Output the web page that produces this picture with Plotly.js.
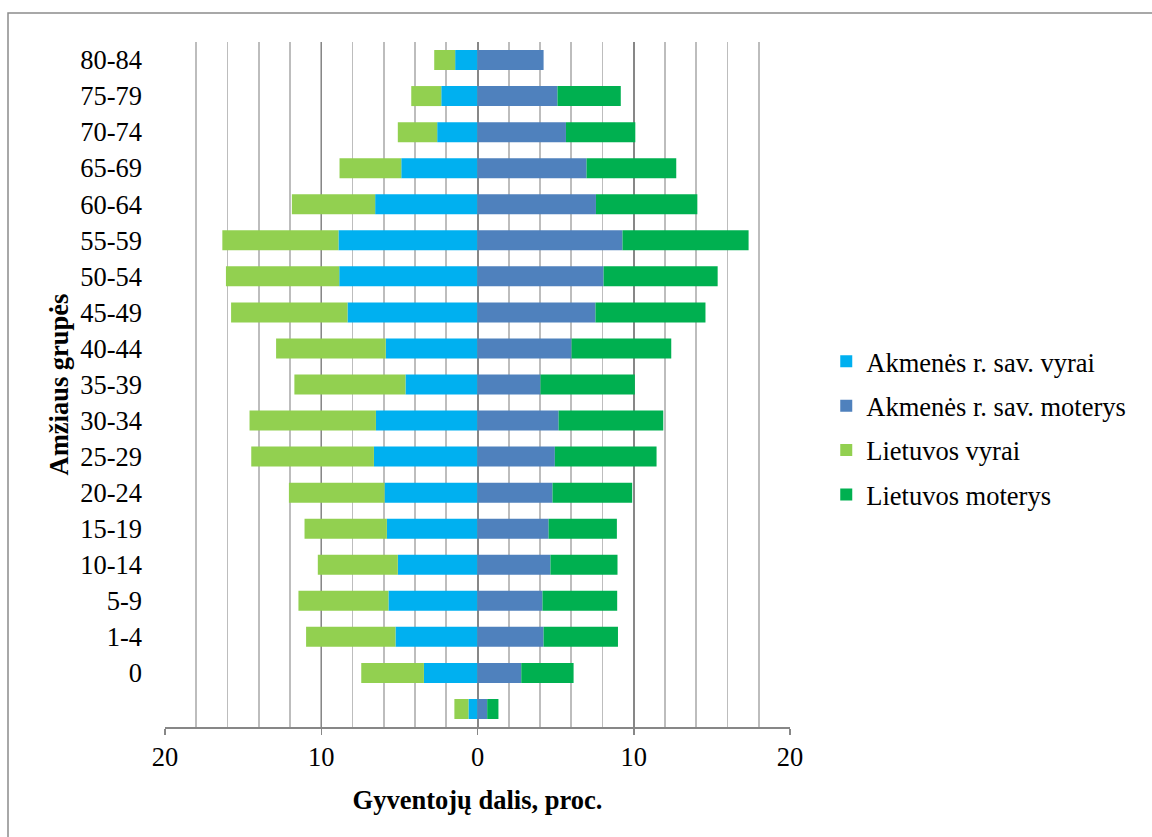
<!DOCTYPE html>
<html>
<head>
<meta charset="utf-8">
<script src="https://cdn.plot.ly/plotly-3.0.1.min.js"></script>
<style>
html,body{margin:0;padding:0;background:#fff;}
#chart{width:1152px;height:837px;}
</style>
</head>
<body>
<div id="chart"></div>
<script>
// Categories, bottom to top
const ageGroups = ['85+','0','1-4','5-9','10-14','15-19','20-24','25-29','30-34','35-39','40-44','45-49','50-54','55-59','60-64','65-69','70-74','75-79','80-84'];
const ageLabels = ['','0','1-4','5-9','10-14','15-19','20-24','25-29','30-34','35-39','40-44','45-49','50-54','55-59','60-64','65-69','70-74','75-79','80-84'];

// Shares, % (men drawn to the left)
const akmVyrai    = [0.58, 3.43, 5.25, 5.70, 5.10, 5.80, 5.95, 6.63, 6.50, 4.61, 5.87, 8.32, 8.85, 8.90, 6.55, 4.88, 2.58, 2.32, 1.43];
const akmMoterys  = [0.62, 2.80, 4.23, 4.16, 4.67, 4.55, 4.80, 4.95, 5.19, 4.03, 6.02, 7.55, 8.07, 9.28, 7.58, 6.98, 5.66, 5.12, 4.23];
const ltVyrai     = [0.90, 4.01, 5.72, 5.76, 5.12, 5.27, 6.12, 7.85, 8.09, 7.11, 7.02, 7.45, 7.25, 7.43, 5.33, 3.95, 2.52, 1.92, 1.34];
const ltMoterys   = [0.72, 3.35, 4.76, 4.78, 4.29, 4.37, 5.10, 6.51, 6.70, 6.04, 6.38, 7.04, 7.30, 8.07, 6.49, 5.74, 4.44, 4.05, 0];

const seriesNames = ['Akmenės r. sav. vyrai','Akmenės r. sav. moterys','Lietuvos vyrai','Lietuvos moterys'];
const seriesColors = ['#00B0F0','#4F81BD','#92D050','#00B050'];

const xTickVals = [-20,-10,0,10,20];
const xTickText = ['20','10','0','10','20'];

const neg = a => a.map(v => -v);
const vals = [neg(akmVyrai), akmMoterys, neg(ltVyrai), ltMoterys];

const traces = vals.map((x, i) => ({
  type: 'bar',
  orientation: 'h',
  name: seriesNames[i],
  x: x,
  y: ageGroups,
  marker: {color: seriesColors[i], line: {width: 0}},
  legendgroup: 'g' + i,
  hoverinfo: 'name+y'
}));

const FAM = '"Liberation Serif", "Times New Roman", Times, serif';
const font = {family: FAM, size: 26.5, color: '#000'};

const layout = {
  width: 1152,
  height: 837,
  margin: {l: 165, r: 362, t: 42, b: 110, pad: 0},
  paper_bgcolor: '#fff',
  plot_bgcolor: '#fff',
  font: font,
  barmode: 'relative',
  bargap: 0.445,
  showlegend: true,
  legend: {
    x: 1.058, xanchor: 'left',
    y: 0.4365, yanchor: 'middle',
    font: font,
    traceorder: 'grouped',
    tracegroupgap: 7,
    bgcolor: 'rgba(0,0,0,0)'
  },
  xaxis: {
    range: [-20, 20],
    tickvals: xTickVals,
    ticktext: xTickText,
    showgrid: true,
    gridcolor: '#878787',
    gridwidth: 1.5,
    minor: {dtick: 2, showgrid: true, gridcolor: '#bdbdbd', gridwidth: 1.7, ticks: ''},
    zeroline: true,
    zerolinecolor: '#878787',
    zerolinewidth: 2,
    showline: true,
    linecolor: '#878787',
    linewidth: 1.5,
    ticks: 'outside',
    ticklen: 6,
    tickwidth: 1.5,
    tickcolor: '#878787',
    tickfont: font,
    fixedrange: true,
    title: {text: '<b>Gyventojų dalis, proc.</b>', font: {family: FAM, size: 26.5, color: '#000'}, standoff: 19}
  },
  yaxis: {
    type: 'category',
    categoryorder: 'array',
    categoryarray: ageGroups,
    tickvals: ageGroups,
    ticktext: ageLabels,
    showgrid: false,
    zeroline: false,
    showline: false,
    ticks: '',
    ticklabelstandoff: 22,
    tickfont: font,
    fixedrange: true,
    title: {text: '<b>Amžiaus grupės</b>', font: {family: FAM, size: 26.5, color: '#000'}, standoff: 3}
  },
  shapes: [{
    type: 'rect', xref: 'paper', yref: 'paper',
    x0: -0.2512, x1: 1.8, y0: -0.5, y1: 1.0423,
    line: {color: '#8c8c8c', width: 1.5},
    fillcolor: 'rgba(0,0,0,0)',
    layer: 'below'
  }]
};

Plotly.newPlot('chart', traces, layout, {displayModeBar: false, staticPlot: true});
</script>
</body>
</html>
